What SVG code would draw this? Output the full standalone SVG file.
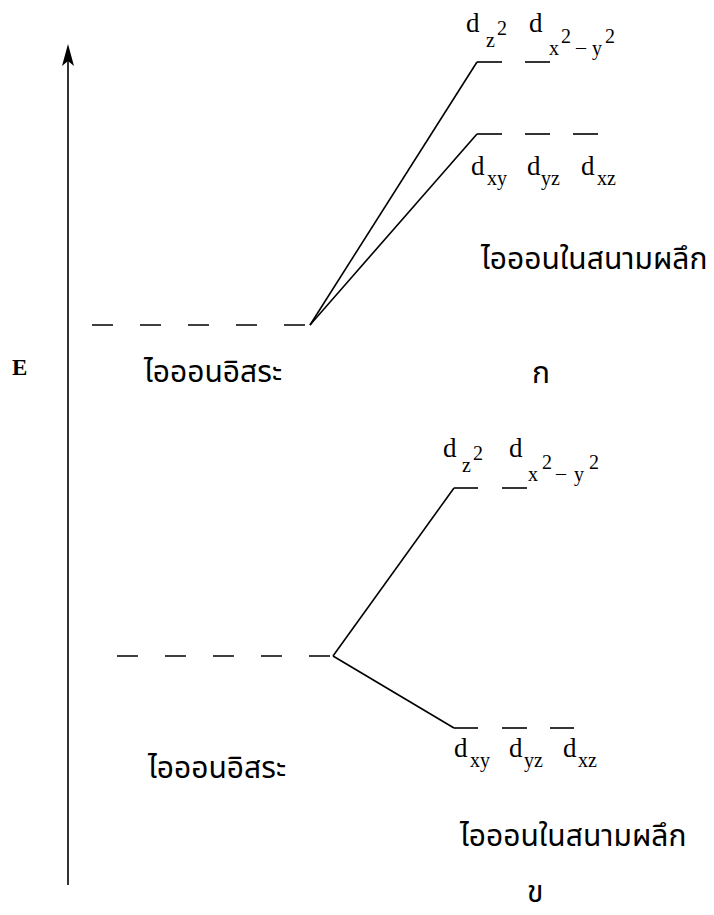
<svg xmlns="http://www.w3.org/2000/svg" width="714" height="915" viewBox="0 0 714 915">
<style>
.ln{stroke:#000;stroke-width:1.6;fill:none}
.dash{stroke:#000;stroke-width:1.6;fill:none;stroke-dasharray:21 27}
.d{font-family:"Liberation Serif","DejaVu Serif",serif;font-size:27px;fill:#000}
.s{font-family:"Liberation Serif","DejaVu Serif",serif;font-size:20px;fill:#000}
.th{font-family:"Noto Sans Thai","Noto Sans","DejaVu Sans",sans-serif;font-size:30px;fill:#000}
.e{font-family:"Liberation Serif",serif;font-size:23px;font-weight:bold;fill:#000}
</style>
<g id="axis">
<line x1="68" y1="885" x2="68" y2="50" class="ln"/>
<path d="M68,44 L74,66 L68,61 L62,66 Z" fill="#000"/>
<text class="e" x="12" y="375">E</text>
</g>
<g id="connectors">
<line x1="92" y1="325" x2="310" y2="325" class="dash"/>
<line x1="310" y1="325" x2="477" y2="62" class="ln"/>
<line x1="310" y1="325" x2="477" y2="134" class="ln"/>
<line x1="117" y1="656" x2="333" y2="656" class="dash"/>
<line x1="333" y1="656" x2="454" y2="488" class="ln"/>
<line x1="333" y1="656" x2="454" y2="728" class="ln"/>
</g>
<g id="top-free">
<text class="th" x="144" y="382">ไอออนอิสระ</text>
</g>
<g id="top-eg">
<line x1="477" y1="62" x2="502" y2="62" class="ln"/>
<line x1="525" y1="62" x2="550" y2="62" class="ln"/>
<text class="d" x="466" y="32">d</text><text class="s" x="486" y="47">z</text><text class="s" x="497" y="35">2</text>
<text class="d" x="529" y="32">d</text><text class="s" x="549" y="55">x</text><text class="s" x="561" y="43">2</text><text class="s" x="576" y="54">–</text><text class="s" x="592" y="55">y</text><text class="s" x="605" y="43">2</text>
</g>
<g id="top-t2g">
<line x1="477" y1="134" x2="502" y2="134" class="ln"/>
<line x1="525" y1="134" x2="550" y2="134" class="ln"/>
<line x1="573" y1="134" x2="598" y2="134" class="ln"/>
<text class="d" x="471" y="175">d</text><text class="s" x="487" y="185">xy</text>
<text class="d" x="527" y="175">d</text><text class="s" x="541" y="185">yz</text>
<text class="d" x="581" y="175">d</text><text class="s" x="597" y="185">xz</text>
</g>
<g id="top-crystal">
<text class="th" x="481" y="269">ไอออนในสนามผลึก</text>
<text class="th" x="532" y="383">ก</text>
</g>
<g id="bot-free">
<text class="th" x="148" y="778">ไอออนอิสระ</text>
</g>
<g id="bot-eg">
<line x1="454" y1="488" x2="478" y2="488" class="ln"/>
<line x1="502" y1="488" x2="527" y2="488" class="ln"/>
<text class="d" x="443" y="457">d</text><text class="s" x="462" y="472">z</text><text class="s" x="473" y="460">2</text>
<text class="d" x="509" y="457">d</text><text class="s" x="528" y="481">x</text><text class="s" x="542" y="469">2</text><text class="s" x="556" y="480">–</text><text class="s" x="574" y="481">y</text><text class="s" x="589" y="469">2</text>
</g>
<g id="bot-t2g">
<line x1="454" y1="728" x2="478" y2="728" class="ln"/>
<line x1="502" y1="728" x2="527" y2="728" class="ln"/>
<line x1="550" y1="728" x2="574" y2="728" class="ln"/>
<text class="d" x="454" y="757">d</text><text class="s" x="470" y="767">xy</text>
<text class="d" x="509" y="757">d</text><text class="s" x="524" y="767">yz</text>
<text class="d" x="563" y="757">d</text><text class="s" x="578" y="767">xz</text>
</g>
<g id="bot-crystal">
<text class="th" x="460" y="846">ไอออนในสนามผลึก</text>
<text class="th" x="527" y="902">ข</text>
</g>
</svg>
